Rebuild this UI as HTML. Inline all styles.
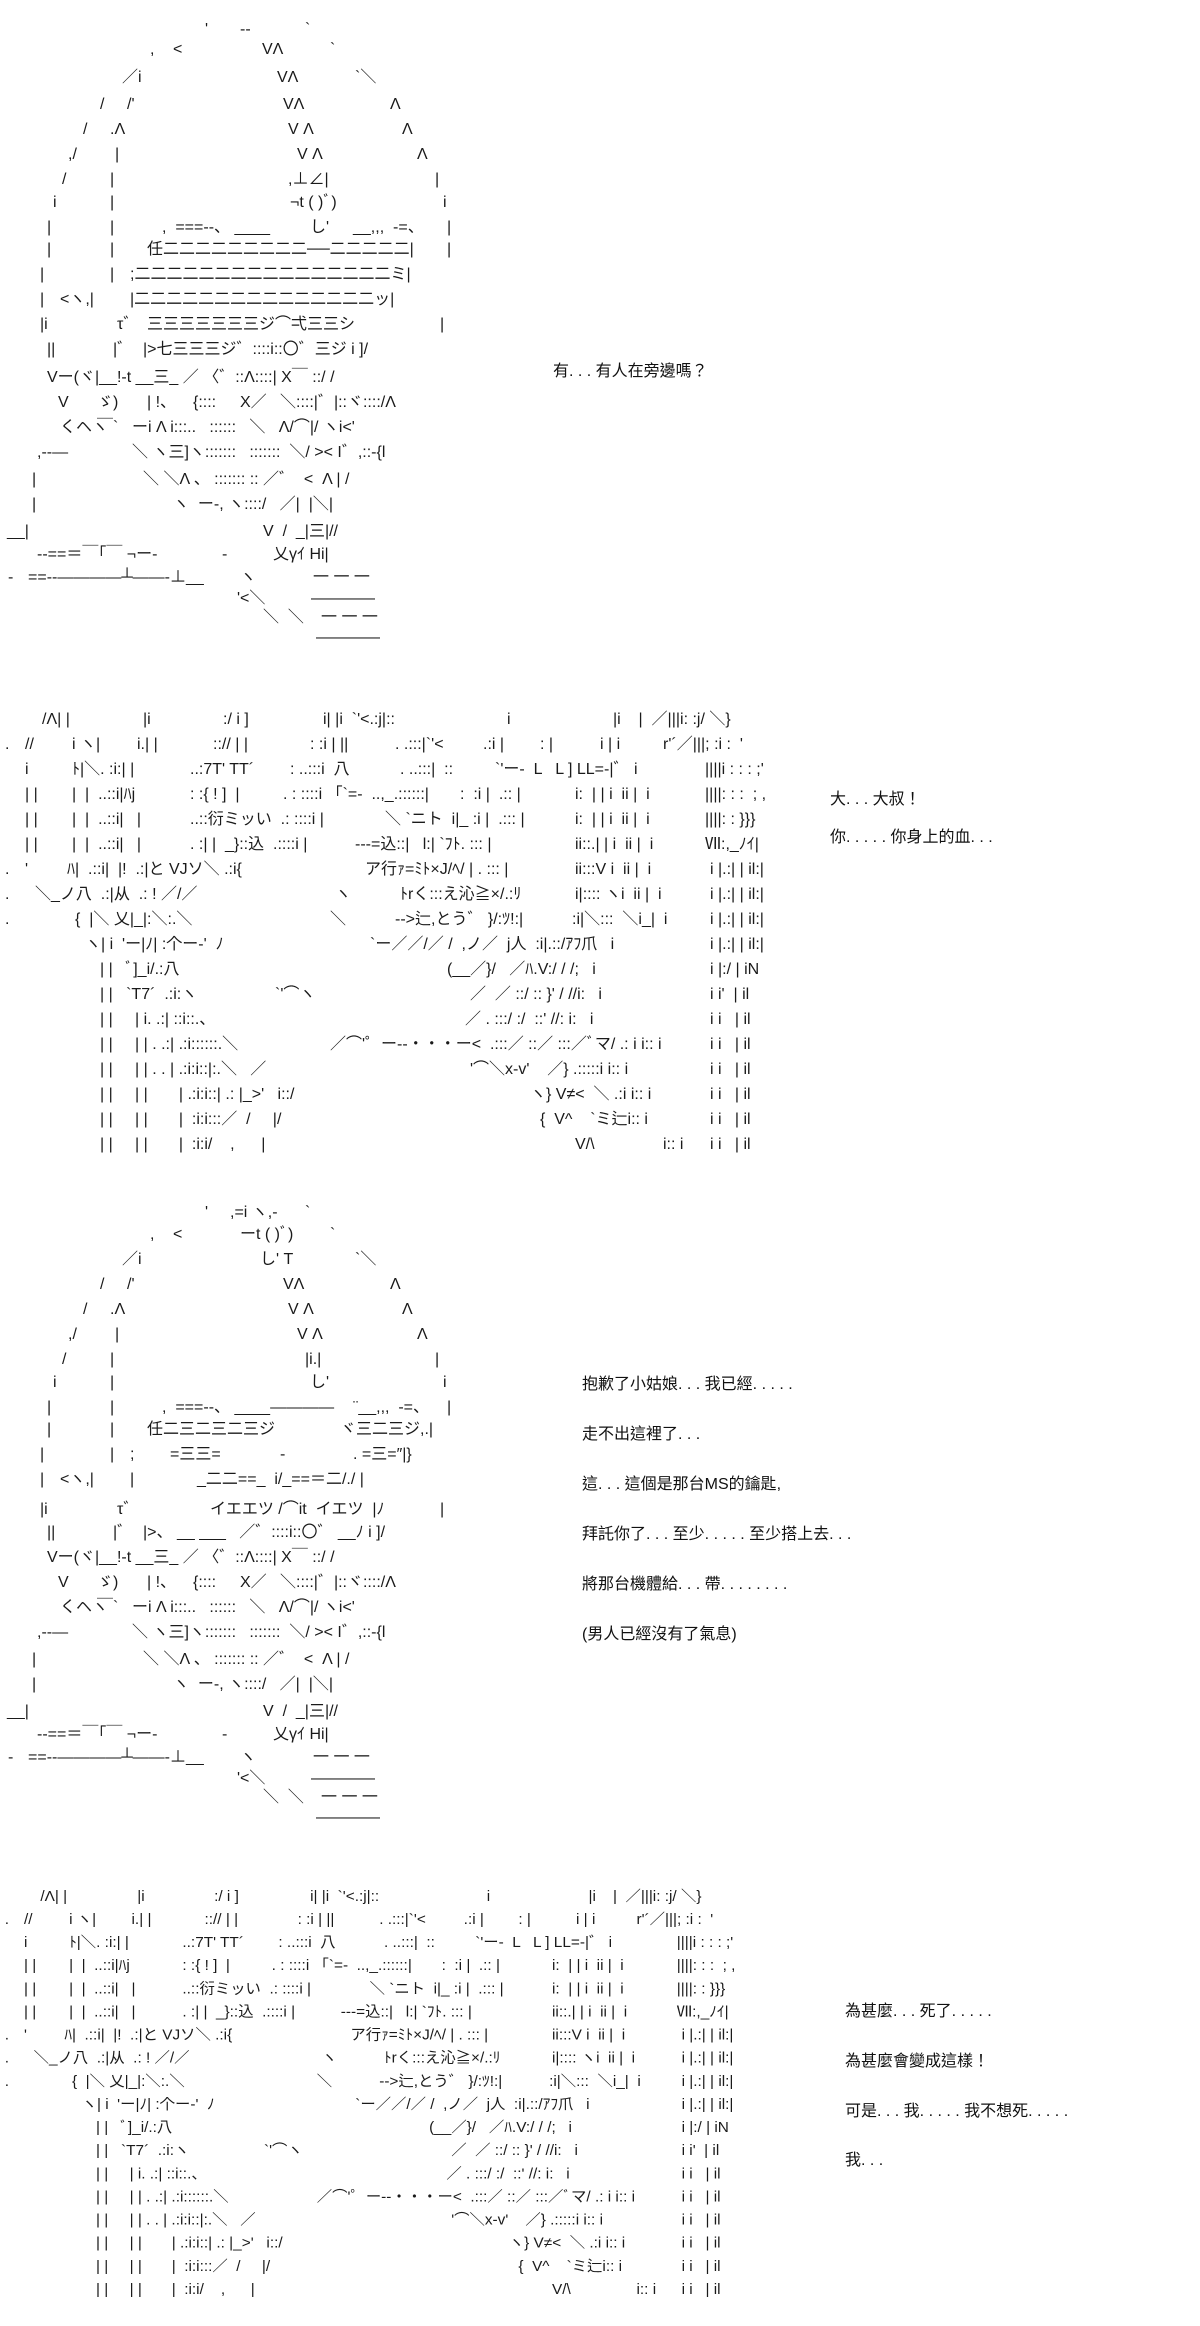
<!DOCTYPE html>
<html><head><meta charset="utf-8">
<style>
html,body{margin:0;padding:0;background:#fff;}
body{width:1200px;height:2326px;position:relative;overflow:hidden;font-family:"Liberation Sans","Noto Sans CJK JP",sans-serif;color:#1a1a1a;}
.blk{position:absolute;left:0;width:1200px;}
.r{position:absolute;left:0;height:24px;width:1200px;}
.r b{position:absolute;top:0;font-weight:normal;font-size:16px;line-height:24px;white-space:pre;}
.t{position:absolute;font-size:16px;line-height:20px;white-space:pre;color:#111;font-family:"Liberation Sans","Noto Sans CJK TC",sans-serif;}
</style></head><body>

<!-- BLOCK 1 -->
<div class="blk" style="top:0">
<div class="r" style="top:18px"><b style="left:205px">'</b><b style="left:240px">--</b><b style="left:305px">`</b></div>
<div class="r" style="top:38px"><b style="left:150px">,</b><b style="left:173px">&lt;</b><b style="left:262px">VΛ</b><b style="left:330px">`</b></div>
<div class="r" style="top:66px"><b style="left:122px">／i</b><b style="left:277px">VΛ</b><b style="left:355px">`＼</b></div>
<div class="r" style="top:93px"><b style="left:100px">/</b><b style="left:127px">/'</b><b style="left:283px">VΛ</b><b style="left:390px">Λ</b></div>
<div class="r" style="top:118px"><b style="left:83px">/</b><b style="left:110px">.Λ</b><b style="left:288px">V Λ</b><b style="left:402px">Λ</b></div>
<div class="r" style="top:143px"><b style="left:68px">,/</b><b style="left:115px">|</b><b style="left:297px">V Λ</b><b style="left:417px">Λ</b></div>
<div class="r" style="top:168px"><b style="left:62px">/</b><b style="left:110px">|</b><b style="left:288px">,⊥∠|</b><b style="left:435px">|</b></div>
<div class="r" style="top:191px"><b style="left:53px">i</b><b style="left:110px">|</b><b style="left:290px">¬t ( )ﾞ)</b><b style="left:443px">i</b></div>
<div class="r" style="top:216px"><b style="left:47px">|</b><b style="left:110px">|</b><b style="left:162px">,  ===--、 ____</b><b style="left:310px">し'</b><b style="left:353px">__,,,  -=、</b><b style="left:447px">|</b></div>
<div class="r" style="top:238px"><b style="left:47px">|</b><b style="left:110px">|</b><b style="left:147px">任二二二二二二二二二──二二二二二|</b><b style="left:447px">|</b></div>
<div class="r" style="top:263px"><b style="left:40px">|</b><b style="left:110px">|</b><b style="left:130px">;二二二二二二二二二二二二二二二二ミ|</b></div>
<div class="r" style="top:288px"><b style="left:40px">|</b><b style="left:60px">&lt;ヽ,|</b><b style="left:130px">|二二二二二二二二二二二二二二二ッ|</b></div>
<div class="r" style="top:313px"><b style="left:40px">|i</b><b style="left:117px">τ゛</b><b style="left:147px">三三三三三三三ジ⌒弌三三シ</b><b style="left:440px">|</b></div>
<div class="r" style="top:338px"><b style="left:47px">||</b><b style="left:113px">|゛</b><b style="left:143px">|&gt;七三三三ジ゛::::i::〇゛三ジ i ]/</b></div>
<div class="r" style="top:366px"><b style="left:47px">Vー(ヾ|__!-t __三_ ／ 〈゛::Λ::::| X￣ ::/ /</b></div>
<div class="r" style="top:391px"><b style="left:58px">V</b><b style="left:97px">ゞ)</b><b style="left:147px">| !、</b><b style="left:193px">{::::</b><b style="left:240px">X／</b><b style="left:280px">＼::::|゛|::ヾ::::/Λ</b></div>
<div class="r" style="top:416px"><b style="left:60px">くヘヽ</b><b style="left:97px">￣`</b><b style="left:132px">ーi Λ i:::..   ::::::   ＼   Λ/⌒|/ ヽi&lt;'</b></div>
<div class="r" style="top:441px"><b style="left:37px">,--―</b><b style="left:132px">＼ ヽ三]ヽ:::::::   :::::::  ＼/ &gt;&lt; I゛,::-{l</b></div>
<div class="r" style="top:468px"><b style="left:32px">|</b><b style="left:143px">＼ ＼Λ 、 ::::::: :: ／゛  &lt;  Λ | /</b></div>
<div class="r" style="top:493px"><b style="left:32px">|</b><b style="left:173px">ヽ  ー-, ヽ::::/   ／|  |＼|</b></div>
<div class="r" style="top:520px"><b style="left:7px">__|</b><b style="left:263px">V  /  _|三|//</b></div>
<div class="r" style="top:543px"><b style="left:37px">--==＝￣｢￣ ¬ー-</b><b style="left:222px">-</b><b style="left:273px">乂γｲ Hi|</b></div>
<div class="r" style="top:566px"><b style="left:8px">-</b><b style="left:28px">==--――――┴――-⊥__</b><b style="left:240px">ヽ</b><b style="left:313px">一 一 一</b></div>
<div class="r" style="top:587px"><b style="left:237px">'&lt;＼</b><b style="left:311px">――――</b></div>
<div class="r" style="top:606px"><b style="left:263px">＼  ＼</b><b style="left:321px">一 一 一</b></div>
<div class="r" style="top:626px"><b style="left:316px">――――</b></div>
</div>

<div class="t" style="left:553px;top:362px">有. . . 有人在旁邊嗎？</div>

<!-- BLOCK 2 -->
<div class="blk" style="top:708px">
<div class="r" style="top:0px"><b style="left:42px">/Λ| |</b><b style="left:143px">|i</b><b style="left:223px">:/ i ]</b><b style="left:323px">i| |i  `'&lt;.:j|::</b><b style="left:507px">i</b><b style="left:613px">|i    |  ／|||i: :j/ ＼}</b></div>
<div class="r" style="top:25px"><b style="left:5px">.</b><b style="left:25px">//</b><b style="left:72px">i ヽ|</b><b style="left:137px">i.| |</b><b style="left:213px">::// | |</b><b style="left:310px">: :i | ||</b><b style="left:395px">. .:::|`'&lt;</b><b style="left:483px">.:i |</b><b style="left:540px">: |</b><b style="left:600px">i | i</b><b style="left:663px">r'´／|||; :i :  '</b></div>
<div class="r" style="top:50px"><b style="left:25px">i</b><b style="left:72px">ﾄ|＼. :i:| |</b><b style="left:190px">..:7T' TT´</b><b style="left:290px">: ..:::i  八</b><b style="left:400px">. ..:::|  ::</b><b style="left:495px">`'ー-  L   L ] LL=-|゛ i</b><b style="left:705px">||||i : : : ;'</b></div>
<div class="r" style="top:75px"><b style="left:25px">| |</b><b style="left:72px">|  |  ..::i|ﾊj</b><b style="left:190px">: :{ ! ]  |</b><b style="left:283px">. : ::::i 「`=-  ..,_.::::::|</b><b style="left:460px">:  :i |  .:: |</b><b style="left:575px">i:  | | i  ii |  i</b><b style="left:705px">||||: : :  ; ,</b></div>
<div class="r" style="top:100px"><b style="left:25px">| |</b><b style="left:72px">|  |  ..::i|   |</b><b style="left:190px">..::衍ミッい  .: ::::i |</b><b style="left:385px">＼ `ニト  i|_ :i |  .::: |</b><b style="left:575px">i:  | | i  ii |  i</b><b style="left:705px">||||: : }}}</b></div>
<div class="r" style="top:125px"><b style="left:25px">| |</b><b style="left:72px">|  |  ..::i|   |</b><b style="left:190px">. :| |  _}::込  .::::i |</b><b style="left:355px">---=込::|   l:| `ﾌﾄ. ::: |</b><b style="left:575px">ii::.| | i  ii |  i</b><b style="left:705px">Ⅶ:,_ﾉｲ|</b></div>
<div class="r" style="top:150px"><b style="left:5px">.</b><b style="left:25px">'</b><b style="left:67px">ﾊ|  .::i|  |!  .:|と VJソ＼ .:i{</b><b style="left:365px">ア行ｧ=ﾐﾄ×J/ﾍ/ | . ::: |</b><b style="left:575px">ii:::V i  ii |  i</b><b style="left:710px">i |.:| | il:|</b></div>
<div class="r" style="top:175px"><b style="left:5px">.</b><b style="left:35px">＼_ノ八  .:|从  .: ! ／/／</b><b style="left:335px">ヽ</b><b style="left:400px">ﾄrく:::え沁≧×/.:ﾘ</b><b style="left:575px">i|:::: ヽi  ii |  i</b><b style="left:710px">i |.:| | il:|</b></div>
<div class="r" style="top:200px"><b style="left:5px">.</b><b style="left:75px">{  |＼ 乂|_|:＼:.＼</b><b style="left:330px">＼</b><b style="left:395px">-->辷,とう゛ }/:ﾂ!:|</b><b style="left:572px">:i|＼:::  ＼i_|  i</b><b style="left:710px">i |.:| | il:|</b></div>
<div class="r" style="top:225px"><b style="left:85px">ヽ| i  'ー|ﾉ| :个ー-'  ﾉ</b><b style="left:370px">`ー／／/／ /  ,ノ／  j人  :i|.::/ｱﾌ爪   i</b><b style="left:710px">i |.:| | il:|</b></div>
<div class="r" style="top:250px"><b style="left:100px">| |   ﾞ]_i/.:八</b><b style="left:447px">(__／}/   ／ﾊ.V:/ / /;   i</b><b style="left:710px">i |:/ | iN</b></div>
<div class="r" style="top:275px"><b style="left:100px">| |   `T7´  .:i:ヽ</b><b style="left:275px">`'⌒ヽ</b><b style="left:470px">／  ／ ::/ :: }' / //i:   i</b><b style="left:710px">i i'  | il</b></div>
<div class="r" style="top:300px"><b style="left:100px">| |     | i. .:| ::i::.、</b><b style="left:465px">／ . :::/ :/  ::' //: i:   i</b><b style="left:710px">i i   | il</b></div>
<div class="r" style="top:325px"><b style="left:100px">| |     | | . .:| .:i::::::.＼</b><b style="left:330px">／⌒'゜ー--・・・ー&lt;  .:::／ ::／ :::／ﾞマ/ .: i i:: i</b><b style="left:710px">i i   | il</b></div>
<div class="r" style="top:350px"><b style="left:100px">| |     | | . . | .:i:i::|:.＼   ／</b><b style="left:470px">'⌒＼x-v'    ／} .:::::i i:: i</b><b style="left:710px">i i   | il</b></div>
<div class="r" style="top:375px"><b style="left:100px">| |     | |       | .:i:i::| .: |_&gt;'   i::/</b><b style="left:530px">ヽ} V≠&lt;  ＼ .:i i:: i</b><b style="left:710px">i i   | il</b></div>
<div class="r" style="top:400px"><b style="left:100px">| |     | |       |  :i:i:::／  /     |/</b><b style="left:540px">{  V^    `ミ辷i:: i</b><b style="left:710px">i i   | il</b></div>
<div class="r" style="top:425px"><b style="left:100px">| |     | |       |  :i:i/    ,      |</b><b style="left:575px">V/\</b><b style="left:663px">i:: i</b><b style="left:710px">i i   | il</b></div>
</div>

<div class="t" style="left:830px;top:790px">大. . . 大叔！</div>
<div class="t" style="left:830px;top:828px">你. . . . . 你身上的血. . .</div>

<!-- BLOCK 3 -->
<div class="blk" style="top:1180px">
<div class="r" style="top:21px"><b style="left:205px">'</b><b style="left:230px">,=i ヽ,-</b><b style="left:305px">`</b></div>
<div class="r" style="top:43px"><b style="left:150px">,</b><b style="left:173px">&lt;</b><b style="left:240px">ーt ( )ﾞ)</b><b style="left:330px">`</b></div>
<div class="r" style="top:68px"><b style="left:122px">／i</b><b style="left:260px">し' T</b><b style="left:355px">`＼</b></div>
<div class="r" style="top:93px"><b style="left:100px">/</b><b style="left:127px">/'</b><b style="left:283px">VΛ</b><b style="left:390px">Λ</b></div>
<div class="r" style="top:118px"><b style="left:83px">/</b><b style="left:110px">.Λ</b><b style="left:288px">V Λ</b><b style="left:402px">Λ</b></div>
<div class="r" style="top:143px"><b style="left:68px">,/</b><b style="left:115px">|</b><b style="left:297px">V Λ</b><b style="left:417px">Λ</b></div>
<div class="r" style="top:168px"><b style="left:62px">/</b><b style="left:110px">|</b><b style="left:305px">|i.|</b><b style="left:435px">|</b></div>
<div class="r" style="top:191px"><b style="left:53px">i</b><b style="left:110px">|</b><b style="left:310px">し'</b><b style="left:443px">i</b></div>
<div class="r" style="top:216px"><b style="left:47px">|</b><b style="left:110px">|</b><b style="left:162px">,  ===--、 ____――――</b><b style="left:353px">¨__,,,  -=、</b><b style="left:447px">|</b></div>
<div class="r" style="top:238px"><b style="left:47px">|</b><b style="left:110px">|</b><b style="left:147px">任二三二三二三ジ</b><b style="left:340px">ヾ三二三ジ,.|</b></div>
<div class="r" style="top:263px"><b style="left:40px">|</b><b style="left:110px">|</b><b style="left:130px">;</b><b style="left:170px">=三三=</b><b style="left:280px">-</b><b style="left:353px">. =三=″|}</b></div>
<div class="r" style="top:288px"><b style="left:40px">|</b><b style="left:60px">&lt;ヽ,|</b><b style="left:130px">|</b><b style="left:197px">_二二==_  i/_==＝二/./ |</b></div>
<div class="r" style="top:318px"><b style="left:40px">|i</b><b style="left:117px">τ゛</b><b style="left:210px">イエエツ /⌒it  イエツ  |ﾉ</b><b style="left:440px">|</b></div>
<div class="r" style="top:341px"><b style="left:47px">||</b><b style="left:113px">|゛</b><b style="left:143px">|&gt;、 __ ___   ／゛::::i::〇゛ __ﾉ i ]/</b></div>
<div class="r" style="top:366px"><b style="left:47px">Vー(ヾ|__!-t __三_ ／ 〈゛::Λ::::| X￣ ::/ /</b></div>
<div class="r" style="top:391px"><b style="left:58px">V</b><b style="left:97px">ゞ)</b><b style="left:147px">| !、</b><b style="left:193px">{::::</b><b style="left:240px">X／</b><b style="left:280px">＼::::|゛|::ヾ::::/Λ</b></div>
<div class="r" style="top:416px"><b style="left:60px">くヘヽ</b><b style="left:97px">￣`</b><b style="left:132px">ーi Λ i:::..   ::::::   ＼   Λ/⌒|/ ヽi&lt;'</b></div>
<div class="r" style="top:441px"><b style="left:37px">,--―</b><b style="left:132px">＼ ヽ三]ヽ:::::::   :::::::  ＼/ &gt;&lt; I゛,::-{l</b></div>
<div class="r" style="top:468px"><b style="left:32px">|</b><b style="left:143px">＼ ＼Λ 、 ::::::: :: ／゛  &lt;  Λ | /</b></div>
<div class="r" style="top:493px"><b style="left:32px">|</b><b style="left:173px">ヽ  ー-, ヽ::::/   ／|  |＼|</b></div>
<div class="r" style="top:520px"><b style="left:7px">__|</b><b style="left:263px">V  /  _|三|//</b></div>
<div class="r" style="top:543px"><b style="left:37px">--==＝￣｢￣ ¬ー-</b><b style="left:222px">-</b><b style="left:273px">乂γｲ Hi|</b></div>
<div class="r" style="top:566px"><b style="left:8px">-</b><b style="left:28px">==--――――┴――-⊥__</b><b style="left:240px">ヽ</b><b style="left:313px">一 一 一</b></div>
<div class="r" style="top:587px"><b style="left:237px">'&lt;＼</b><b style="left:311px">――――</b></div>
<div class="r" style="top:606px"><b style="left:263px">＼  ＼</b><b style="left:321px">一 一 一</b></div>
<div class="r" style="top:626px"><b style="left:316px">――――</b></div>
</div>

<div class="t" style="left:582px;top:1375px">抱歉了小姑娘. . . 我已經. . . . .</div>
<div class="t" style="left:582px;top:1425px">走不出這裡了. . .</div>
<div class="t" style="left:582px;top:1475px">這. . . 這個是那台MS的鑰匙,</div>
<div class="t" style="left:582px;top:1525px">拜託你了. . . 至少. . . . . 至少搭上去. . .</div>
<div class="t" style="left:582px;top:1575px">將那台機體給. . . 帶. . . . . . . .</div>
<div class="t" style="left:582px;top:1625px">(男人已經沒有了氣息)</div>

<!-- BLOCK 4 (block 2 compressed) -->
<div class="blk" style="top:1886px;transform:scale(0.96,0.925);transform-origin:0 0;">
<div class="r" style="top:0px"><b style="left:42px">/Λ| |</b><b style="left:143px">|i</b><b style="left:223px">:/ i ]</b><b style="left:323px">i| |i  `'&lt;.:j|::</b><b style="left:507px">i</b><b style="left:613px">|i    |  ／|||i: :j/ ＼}</b></div>
<div class="r" style="top:25px"><b style="left:5px">.</b><b style="left:25px">//</b><b style="left:72px">i ヽ|</b><b style="left:137px">i.| |</b><b style="left:213px">::// | |</b><b style="left:310px">: :i | ||</b><b style="left:395px">. .:::|`'&lt;</b><b style="left:483px">.:i |</b><b style="left:540px">: |</b><b style="left:600px">i | i</b><b style="left:663px">r'´／|||; :i :  '</b></div>
<div class="r" style="top:50px"><b style="left:25px">i</b><b style="left:72px">ﾄ|＼. :i:| |</b><b style="left:190px">..:7T' TT´</b><b style="left:290px">: ..:::i  八</b><b style="left:400px">. ..:::|  ::</b><b style="left:495px">`'ー-  L   L ] LL=-|゛ i</b><b style="left:705px">||||i : : : ;'</b></div>
<div class="r" style="top:75px"><b style="left:25px">| |</b><b style="left:72px">|  |  ..::i|ﾊj</b><b style="left:190px">: :{ ! ]  |</b><b style="left:283px">. : ::::i 「`=-  ..,_.::::::|</b><b style="left:460px">:  :i |  .:: |</b><b style="left:575px">i:  | | i  ii |  i</b><b style="left:705px">||||: : :  ; ,</b></div>
<div class="r" style="top:100px"><b style="left:25px">| |</b><b style="left:72px">|  |  ..::i|   |</b><b style="left:190px">..::衍ミッい  .: ::::i |</b><b style="left:385px">＼ `ニト  i|_ :i |  .::: |</b><b style="left:575px">i:  | | i  ii |  i</b><b style="left:705px">||||: : }}}</b></div>
<div class="r" style="top:125px"><b style="left:25px">| |</b><b style="left:72px">|  |  ..::i|   |</b><b style="left:190px">. :| |  _}::込  .::::i |</b><b style="left:355px">---=込::|   l:| `ﾌﾄ. ::: |</b><b style="left:575px">ii::.| | i  ii |  i</b><b style="left:705px">Ⅶ:,_ﾉｲ|</b></div>
<div class="r" style="top:150px"><b style="left:5px">.</b><b style="left:25px">'</b><b style="left:67px">ﾊ|  .::i|  |!  .:|と VJソ＼ .:i{</b><b style="left:365px">ア行ｧ=ﾐﾄ×J/ﾍ/ | . ::: |</b><b style="left:575px">ii:::V i  ii |  i</b><b style="left:710px">i |.:| | il:|</b></div>
<div class="r" style="top:175px"><b style="left:5px">.</b><b style="left:35px">＼_ノ八  .:|从  .: ! ／/／</b><b style="left:335px">ヽ</b><b style="left:400px">ﾄrく:::え沁≧×/.:ﾘ</b><b style="left:575px">i|:::: ヽi  ii |  i</b><b style="left:710px">i |.:| | il:|</b></div>
<div class="r" style="top:200px"><b style="left:5px">.</b><b style="left:75px">{  |＼ 乂|_|:＼:.＼</b><b style="left:330px">＼</b><b style="left:395px">-->辷,とう゛ }/:ﾂ!:|</b><b style="left:572px">:i|＼:::  ＼i_|  i</b><b style="left:710px">i |.:| | il:|</b></div>
<div class="r" style="top:225px"><b style="left:85px">ヽ| i  'ー|ﾉ| :个ー-'  ﾉ</b><b style="left:370px">`ー／／/／ /  ,ノ／  j人  :i|.::/ｱﾌ爪   i</b><b style="left:710px">i |.:| | il:|</b></div>
<div class="r" style="top:250px"><b style="left:100px">| |   ﾞ]_i/.:八</b><b style="left:447px">(__／}/   ／ﾊ.V:/ / /;   i</b><b style="left:710px">i |:/ | iN</b></div>
<div class="r" style="top:275px"><b style="left:100px">| |   `T7´  .:i:ヽ</b><b style="left:275px">`'⌒ヽ</b><b style="left:470px">／  ／ ::/ :: }' / //i:   i</b><b style="left:710px">i i'  | il</b></div>
<div class="r" style="top:300px"><b style="left:100px">| |     | i. .:| ::i::.、</b><b style="left:465px">／ . :::/ :/  ::' //: i:   i</b><b style="left:710px">i i   | il</b></div>
<div class="r" style="top:325px"><b style="left:100px">| |     | | . .:| .:i::::::.＼</b><b style="left:330px">／⌒'゜ー--・・・ー&lt;  .:::／ ::／ :::／ﾞマ/ .: i i:: i</b><b style="left:710px">i i   | il</b></div>
<div class="r" style="top:350px"><b style="left:100px">| |     | | . . | .:i:i::|:.＼   ／</b><b style="left:470px">'⌒＼x-v'    ／} .:::::i i:: i</b><b style="left:710px">i i   | il</b></div>
<div class="r" style="top:375px"><b style="left:100px">| |     | |       | .:i:i::| .: |_&gt;'   i::/</b><b style="left:530px">ヽ} V≠&lt;  ＼ .:i i:: i</b><b style="left:710px">i i   | il</b></div>
<div class="r" style="top:400px"><b style="left:100px">| |     | |       |  :i:i:::／  /     |/</b><b style="left:540px">{  V^    `ミ辷i:: i</b><b style="left:710px">i i   | il</b></div>
<div class="r" style="top:425px"><b style="left:100px">| |     | |       |  :i:i/    ,      |</b><b style="left:575px">V/\</b><b style="left:663px">i:: i</b><b style="left:710px">i i   | il</b></div>
</div>

<div class="t" style="left:845px;top:2002px">為甚麼. . . 死了. . . . .</div>
<div class="t" style="left:845px;top:2052px">為甚麼會變成這樣！</div>
<div class="t" style="left:845px;top:2102px">可是. . . 我. . . . . 我不想死. . . . .</div>
<div class="t" style="left:845px;top:2151px">我. . .</div>

</body></html>
